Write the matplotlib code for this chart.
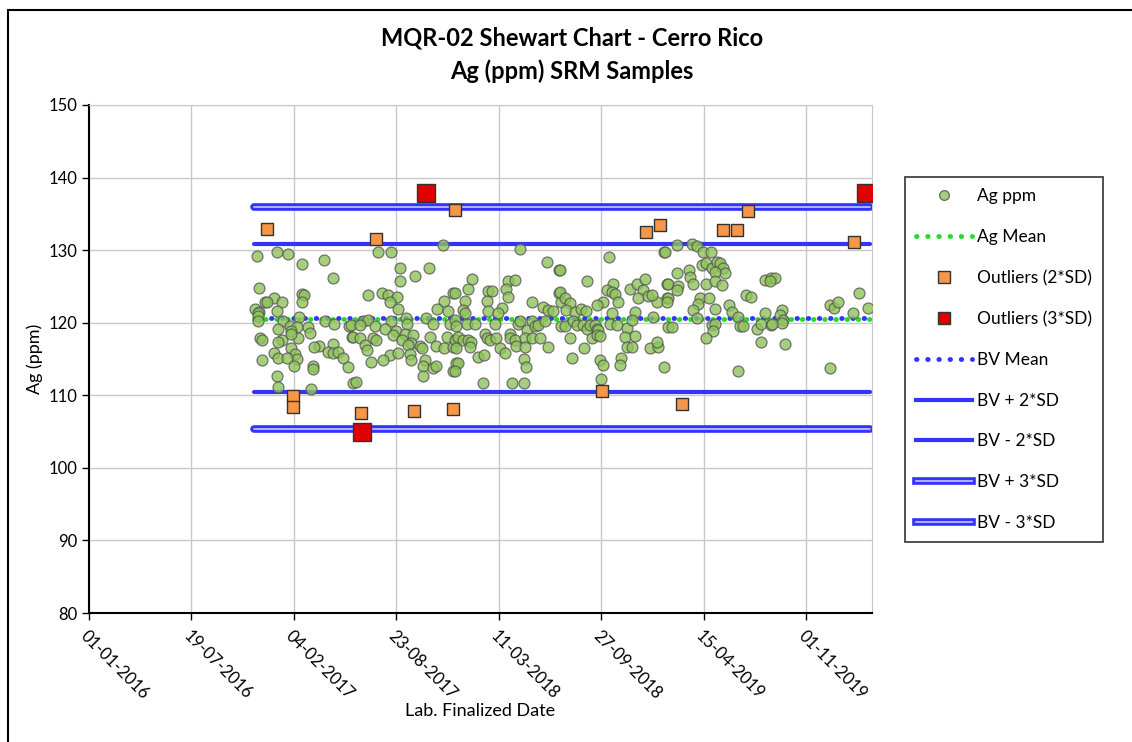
import numpy as np
import pandas as pd
import matplotlib
matplotlib.use("Agg")
import matplotlib.pyplot as plt
import matplotlib.dates as mdates
from matplotlib.lines import Line2D
from matplotlib.patches import Rectangle

plt.rcParams['font.family'] = ['Lato', 'DejaVu Sans']

# days counted from 2016-01-01
start = pd.Timestamp('2016-01-01')

ag_days = [327, 366, 389, 415, 459, 476, 331, 415, 420, 361, 343, 348, 377, 416, 324, 331, 330, 366, 329, 409,
           330, 379, 460, 478, 507, 392, 405, 428, 369, 395, 431, 513, 333, 338, 377, 369, 408, 395, 476, 448,
           439, 467, 476, 486, 361, 369, 395, 402, 405, 387, 338, 496, 400, 437, 437, 506, 366, 369, 434, 515,
           564, 589, 690, 607, 636, 663, 607, 545, 572, 584, 602, 587, 711, 692, 603, 679, 701, 512, 535, 545,
           558, 529, 590, 618, 621, 658, 671, 704, 577, 600, 616, 633, 516, 529, 555, 560, 538, 542, 594, 610,
           629, 665, 698, 717, 678, 692, 711, 646, 649, 623, 587, 603, 573, 551, 626, 629, 655, 652, 671, 678,
           652, 711, 717, 521,
           841, 893, 917, 748, 818, 832, 740, 779, 786, 813, 818, 714, 734, 776, 864, 779, 805, 799, 730, 734,
           886, 896, 906, 917, 921, 714, 717, 737, 753, 792, 838, 841, 854, 864, 870, 877, 890, 922, 714, 720,
           730, 740, 746, 772, 776, 782, 795, 821, 821, 831, 850, 864, 880, 834, 850, 896, 802, 812, 743, 717,
           760, 771, 849, 852, 720, 714, 768, 825, 849,
           1015, 1122, 919, 972, 1023, 1010, 1020, 1026, 1033, 1004, 991, 1056, 1070, 1085, 1082, 1072, 1091, 1108,
           1098, 1127, 1128, 919, 929, 939, 931, 948, 961, 970, 1020, 1065, 1101, 929, 945, 952, 965, 971, 978,
           987, 991, 994, 1017, 1030, 1049, 1059, 1130, 939, 981, 991, 997, 1046, 1065, 1049, 1059, 1094, 1111,
           1109, 966, 942, 997, 1004, 1039, 1036, 1122, 1000,
           1147, 1176, 1186, 1199, 1214, 1124, 1196, 1205, 1215, 1225, 1231, 1238, 1241, 1222, 1147, 1170, 1173,
           1179, 1205, 1222, 1236, 1130, 1150, 1147, 1130, 1127, 1192, 1189, 1210, 1179, 1186, 1222, 1248, 1254,
           1267, 1283, 1292, 1320, 1331, 1215, 1222, 1218, 1205, 1270, 1277, 1303, 1311, 1319, 1331, 1311, 1137,
           1266,
           1339, 1329, 1352, 1349, 1355, 1352, 1332, 1358, 1446, 1453, 1462, 1503, 1490, 1521, 1446]

ag_ppm = [129.2, 129.8, 129.5, 128.1, 128.6, 126.2, 124.8, 123.9, 123.8, 123.4, 122.9, 122.8, 122.8, 122.8, 121.9,
          121.5, 121.3, 121.6, 120.9, 120.8, 120.2, 120.3, 120.3, 119.8, 119.6, 119.6, 119.4, 119.4, 119.1, 118.8,
          118.6, 118.1, 117.9, 117.6, 117.6, 117.4, 117.9, 118.5, 117.0, 116.8, 116.6, 115.9, 115.8, 115.9, 115.8,
          115.1, 116.5, 115.7, 115.0, 115.1, 114.8, 115.1, 114.0, 114.0, 113.6, 113.9, 112.7, 111.1, 110.8, 111.7,
          129.7, 129.8, 130.7, 127.6, 126.4, 127.6, 125.8, 123.8, 124.1, 123.8, 123.6, 122.8, 124.1, 123.0, 121.9,
          121.9, 121.6, 119.7, 120.2, 120.4, 119.5, 119.7, 120.3, 120.7, 119.8, 120.6, 119.8, 119.8, 119.2, 118.9,
          118.5, 118.3, 118.0, 117.9, 117.9, 117.6, 116.9, 116.3, 118.3, 117.6, 117.2, 118.0, 118.0, 117.6, 116.8,
          116.5, 116.6, 116.8, 116.5, 116.9, 115.6, 115.8, 114.9, 114.6, 115.7, 114.9, 114.9, 114.0, 113.7, 114.0,
          112.7, 113.4, 114.4, 111.8,
          130.2, 128.4, 127.2, 126.0, 125.7, 125.9, 124.6, 124.4, 124.4, 124.7, 123.6, 124.1, 123.0, 123.0, 122.8,
          121.6, 122.0, 121.4, 121.8, 121.3, 122.1, 121.8, 121.6, 124.1, 122.8, 120.4, 119.5, 119.8, 119.8, 119.8,
          119.8, 120.2, 119.0, 120.2, 119.5, 119.7, 120.2, 119.5, 117.6, 118.1, 117.6, 117.6, 117.4, 118.5, 117.9,
          117.6, 117.9, 118.5, 117.9, 117.6, 117.9, 117.9, 117.9, 116.8, 116.6, 116.6, 116.5, 115.8, 116.6, 116.5,
          115.3, 115.6, 115.0, 113.9, 114.4, 113.3, 111.7, 111.7, 111.7,
          129.0, 129.7, 127.2, 125.8, 125.3, 124.5, 124.3, 124.0, 122.9, 122.9, 122.4, 124.6, 125.4, 126.0, 124.5,
          123.4, 123.7, 122.8, 123.8, 125.4, 123.4, 124.3, 123.4, 122.7, 121.8, 121.5, 121.9, 121.6, 121.4, 121.5,
          120.8, 119.5, 120.2, 119.7, 119.7, 119.1, 119.7, 119.7, 119.2, 119.0, 119.8, 119.7, 119.3, 120.4, 119.4,
          117.9, 117.9, 118.3, 118.2, 118.1, 118.2, 116.7, 116.6, 116.5, 116.6, 117.3, 116.5, 115.1, 114.9, 114.2,
          115.1, 114.2, 113.9, 112.2,
          130.7, 130.8, 130.6, 129.8, 129.8, 129.7, 128.0, 128.2, 127.5, 128.4, 128.2, 127.6, 126.8, 127.0, 126.8,
          127.2, 126.3, 125.4, 125.4, 125.7, 125.2, 125.4, 125.0, 124.5, 123.4, 122.9, 123.4, 122.6, 123.4, 121.7,
          120.6, 121.9, 122.4, 121.5, 120.8, 123.8, 123.6, 125.9, 126.1, 119.7, 119.8, 118.8, 117.9, 119.5, 119.5,
          119.1, 119.8, 121.3, 119.7, 117.4, 119.4, 113.4,
          126.1, 125.7, 121.8, 121.1, 120.4, 119.9, 119.8, 117.0, 122.5, 122.0, 122.8, 124.1, 121.4, 122.0, 113.8]

out2_days = [347, 398, 398, 531, 560, 634, 714, 710, 1001, 1087, 1114, 1157, 1237, 1264, 1286, 1493]
out2_ppm = [132.9, 109.9, 108.4, 107.6, 131.5, 107.8, 135.5, 108.1, 110.6, 132.5, 133.5, 108.8, 132.8, 132.8,
            135.4, 131.1]

out3_days = [658, 533, 1516]
out3_ppm = [137.9, 104.9, 137.9]

bv_mean = 120.6
bv_sd = 5.1
ag_mean = 120.5
line_days = [322, 1524]


def to_date(d):
    return start + pd.to_timedelta(np.array(d), unit='D')


fig = plt.figure(figsize=(11.32, 7.42), dpi=100)
ax = fig.add_axes([89 / 1132, 1 - 613 / 742, (872 - 89) / 1132, (613 - 105) / 742])

# outer chart border (only left and top visible in the original)
fig.patches.append(Rectangle((8 / 1132, -0.1), 1.2, 1.1 - 10 / 742, transform=fig.transFigure,
                             fill=False, edgecolor='black', linewidth=1.5))

lx = to_date(line_days)
blue = '#3333ff'
ax.plot(lx, [ag_mean] * 2, color='#22dd22', linestyle=(0, (0.1, 2.2)), linewidth=3.5,
        dash_capstyle='round', zorder=3)
ax.plot(lx, [bv_mean] * 2, color=blue, linestyle=(1.1, (0.1, 2.2)), linewidth=3.5,
        dash_capstyle='round', zorder=3)
for k in (2, -2):
    ax.plot(lx, [bv_mean + k * bv_sd] * 2, color=blue, linewidth=3, solid_capstyle='round', zorder=3)
for k in (3, -3):
    ax.plot(lx, [bv_mean + k * bv_sd] * 2, color=blue, linewidth=5.5, solid_capstyle='round', zorder=3)
    ax.plot(lx, [bv_mean + k * bv_sd] * 2, color='#c8c8ff', linewidth=1.2, solid_capstyle='round', zorder=3)

ax.scatter(to_date(ag_days), ag_ppm, s=62, facecolor='#8fc45a', edgecolor='#555555',
           linewidth=0.9, alpha=0.8, zorder=4)
ax.scatter(to_date(out2_days), out2_ppm, marker='s', s=85, facecolor='#f79646', edgecolor='#333333',
           linewidth=1, zorder=5)
ax.scatter(to_date(out3_days), out3_ppm, marker='s', s=150, facecolor='#e00000', edgecolor='#333333',
           linewidth=1, zorder=5)

ax.set_ylim(80, 150)
ax.set_yticks(range(80, 151, 10))
ticks = to_date(np.arange(0, 1401, 200))
ax.set_xticks(ticks)
ax.set_xlim(start, start + pd.Timedelta(days=1528))
ax.xaxis.set_major_formatter(mdates.DateFormatter('%d-%m-%Y'))
ax.grid(True, color='#c8c8c8', linewidth=1)
ax.set_axisbelow(True)
for s in ('top', 'right'):
    ax.spines[s].set_color('#c8c8c8')
for s in ('left', 'bottom'):
    ax.spines[s].set_linewidth(1.5)
ax.tick_params(direction='out', length=5, width=1, labelsize=12)
ax.tick_params(axis='x', pad=6)
plt.setp(ax.get_xticklabels(), rotation=-45, ha='left', rotation_mode='anchor')

ax.set_ylabel('Ag (ppm)', fontsize=13)
ax.set_xlabel('Lab. Finalized Date', fontsize=13, labelpad=0)
fig.text(0.505, 1 - 38 / 742, 'MQR-02 Shewart Chart - Cerro Rico', ha='center', va='center',
         fontsize=17, fontweight='bold')
fig.text(0.505, 1 - 71 / 742, 'Ag (ppm) SRM Samples', ha='center', va='center',
         fontsize=17, fontweight='bold')

handles = [
    Line2D([], [], linestyle='none', marker='o', markersize=7, markerfacecolor='#8fc45a',
           markeredgecolor='#555555', alpha=0.8),
    Line2D([], [], color='#22dd22', linestyle=(0, (0.1, 2.2)), linewidth=3.5, dash_capstyle='round'),
    Line2D([], [], linestyle='none', marker='s', markersize=8, markerfacecolor='#f79646',
           markeredgecolor='#333333'),
    Line2D([], [], linestyle='none', marker='s', markersize=8, markerfacecolor='#e00000',
           markeredgecolor='#333333'),
    Line2D([], [], color=blue, linestyle=(0, (0.1, 2.2)), linewidth=3.5, dash_capstyle='round'),
    Line2D([], [], color=blue, linewidth=3),
    Line2D([], [], color=blue, linewidth=3),
    (Line2D([], [], color=blue, linewidth=5.5), Line2D([], [], color='#c8c8ff', linewidth=1.2)),
    (Line2D([], [], color=blue, linewidth=5.5), Line2D([], [], color='#c8c8ff', linewidth=1.2)),
]
labels = ['Ag ppm', 'Ag Mean', 'Outliers (2*SD)', 'Outliers (3*SD)', 'BV Mean',
          'BV + 2*SD', 'BV - 2*SD', 'BV + 3*SD', 'BV - 3*SD']
leg = fig.legend(handles, labels, loc='upper left', bbox_to_anchor=(905 / 1132, 1 - 177 / 742),
                 frameon=True, fancybox=False, edgecolor='black', fontsize=12.5, labelspacing=1.43,
                 handlelength=3.2, handletextpad=0.3, borderpad=0.65, borderaxespad=0)
leg.get_frame().set_linewidth(1.2)

fig.savefig('out.png', dpi=100)
